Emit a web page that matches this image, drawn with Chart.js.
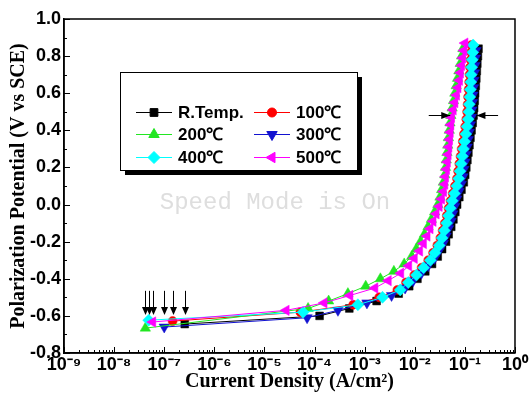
<!DOCTYPE html>
<html>
<head>
<meta charset="utf-8">
<script src="https://cdn.jsdelivr.net/npm/chart.js@4.4.0/dist/chart.umd.min.js"></script>
<style>
html,body{margin:0;padding:0;background:#fff;}
canvas{display:block;}
</style>
</head>
<body>
<canvas id="c" width="529" height="395"></canvas>
<script>
// ---- data: current density (A/cm2) and potential (V vs SCE) ----
const seriesLabels = ['R.Temp.', '100\u2103', '200\u2103', '300\u2103', '400\u2103', '500\u2103'];

const rtCurrent = [2.57e-7, 1.26e-4, 4.94e-4, 1.73e-3, 4.77e-3, 7.74e-3, 1.13e-2, 1.62e-2, 2.21e-2, 2.87e-2, 3.51e-2, 4.21e-2, 4.74e-2, 5.34e-2, 5.90e-2, 6.44e-2, 7.00e-2, 7.74e-2, 8.55e-2, 9.51e-2, 0.1014, 0.1067, 0.1122, 0.1175, 0.1234, 0.1292, 0.1359, 0.1429, 0.149, 0.153, 0.157, 0.160, 0.165, 0.169, 0.173, 0.177, 0.182, 0.187];
const rtPotential = [-0.644, -0.60, -0.56, -0.52, -0.48, -0.44, -0.40, -0.36, -0.32, -0.28, -0.24, -0.20, -0.16, -0.12, -0.08, -0.04, 0.00, 0.04, 0.08, 0.12, 0.16, 0.20, 0.24, 0.28, 0.32, 0.36, 0.40, 0.44, 0.48, 0.52, 0.56, 0.60, 0.64, 0.68, 0.72, 0.76, 0.80, 0.84];

const t100Current = [1.47e-7, 5.2e-5, 5.9e-4, 1.95e-3, 4.5e-3, 6.7e-3, 9.8e-3, 1.37e-2, 1.86e-2, 2.32e-2, 2.82e-2, 3.25e-2, 3.60e-2, 3.98e-2, 4.36e-2, 4.74e-2, 5.18e-2, 5.72e-2, 6.35e-2, 6.95e-2, 7.35e-2, 7.76e-2, 8.20e-2, 8.62e-2, 9.10e-2, 9.60e-2, 0.1015, 0.107, 0.111, 0.1135, 0.116, 0.119, 0.122, 0.124, 0.127, 0.130, 0.133, 0.136];
const t100Potential = [-0.628, -0.58, -0.54, -0.50, -0.46, -0.42, -0.38, -0.34, -0.30, -0.26, -0.22, -0.18, -0.14, -0.10, -0.06, -0.02, 0.02, 0.06, 0.10, 0.14, 0.18, 0.22, 0.26, 0.30, 0.34, 0.38, 0.42, 0.46, 0.50, 0.54, 0.58, 0.62, 0.66, 0.70, 0.74, 0.78, 0.82, 0.86];

const t200Current = [4.2e-8, 7.43e-5, 1.91e-4, 4.63e-4, 1.05e-3, 2.06e-3, 3.83e-3, 6.15e-3, 8.67e-3, 1.07e-2, 1.30e-2, 1.56e-2, 1.84e-2, 2.14e-2, 2.49e-2, 2.89e-2, 3.18e-2, 3.44e-2, 3.72e-2, 3.97e-2, 4.11e-2, 4.25e-2, 4.39e-2, 4.55e-2, 4.70e-2, 4.88e-2, 5.04e-2, 5.25e-2, 5.57e-2, 5.93e-2, 6.30e-2, 6.71e-2, 7.13e-2, 7.60e-2, 8.07e-2, 8.60e-2, 9.12e-2];
const t200Potential = [-0.666, -0.56, -0.52, -0.48, -0.44, -0.40, -0.36, -0.32, -0.28, -0.24, -0.20, -0.16, -0.12, -0.08, -0.04, 0.00, 0.04, 0.08, 0.12, 0.16, 0.20, 0.24, 0.28, 0.32, 0.36, 0.40, 0.44, 0.48, 0.52, 0.56, 0.60, 0.64, 0.68, 0.72, 0.76, 0.80, 0.84];

const t300Current = [1.0e-7, 7.10e-5, 2.93e-4, 1.11e-3, 3.44e-3, 6.41e-3, 9.33e-3, 1.36e-2, 1.86e-2, 2.49e-2, 3.04e-2, 3.71e-2, 4.21e-2, 4.72e-2, 5.30e-2, 5.75e-2, 6.27e-2, 6.87e-2, 7.63e-2, 8.48e-2, 9.17e-2, 9.60e-2, 0.101, 0.106, 0.111, 0.117, 0.122, 0.129, 0.135, 0.138, 0.142, 0.145, 0.149, 0.152, 0.156, 0.160, 0.163, 0.167];
const t300Potential = [-0.660, -0.61, -0.57, -0.53, -0.49, -0.45, -0.41, -0.37, -0.33, -0.29, -0.25, -0.21, -0.17, -0.13, -0.09, -0.05, -0.01, 0.03, 0.07, 0.11, 0.15, 0.19, 0.23, 0.27, 0.31, 0.35, 0.39, 0.43, 0.47, 0.51, 0.55, 0.59, 0.63, 0.67, 0.71, 0.75, 0.79, 0.83];

const t400Current = [4.9e-8, 5.90e-5, 7.33e-4, 2.27e-3, 5.13e-3, 7.43e-3, 1.08e-2, 1.50e-2, 2.05e-2, 2.52e-2, 3.07e-2, 3.51e-2, 3.89e-2, 4.31e-2, 4.70e-2, 5.10e-2, 5.59e-2, 6.18e-2, 6.87e-2, 7.53e-2, 7.96e-2, 8.40e-2, 8.87e-2, 9.33e-2, 9.86e-2, 0.104, 0.110, 0.116, 0.120, 0.122, 0.125, 0.128, 0.131, 0.133, 0.136, 0.140, 0.143, 0.146];
const t400Potential = [-0.623, -0.58, -0.54, -0.50, -0.46, -0.42, -0.38, -0.34, -0.30, -0.26, -0.22, -0.18, -0.14, -0.10, -0.06, -0.02, 0.02, 0.06, 0.10, 0.14, 0.18, 0.22, 0.26, 0.30, 0.34, 0.38, 0.42, 0.46, 0.50, 0.54, 0.58, 0.62, 0.66, 0.70, 0.74, 0.78, 0.82, 0.86];

const t500Current = [5.9e-8, 2.71e-5, 1.55e-4, 5.08e-4, 1.60e-3, 2.96e-3, 5.25e-3, 7.57e-3, 9.78e-3, 1.25e-2, 1.49e-2, 1.76e-2, 2.02e-2, 2.32e-2, 2.67e-2, 3.07e-2, 3.43e-2, 3.76e-2, 3.98e-2, 4.11e-2, 4.31e-2, 4.47e-2, 4.64e-2, 4.79e-2, 4.94e-2, 5.10e-2, 5.25e-2, 5.42e-2, 5.85e-2, 6.32e-2, 6.81e-2, 7.29e-2, 7.81e-2, 8.18e-2, 8.64e-2, 9.08e-2, 9.55e-2, 0.1004];
const t500Potential = [-0.633, -0.57, -0.53, -0.49, -0.45, -0.41, -0.37, -0.33, -0.29, -0.25, -0.21, -0.17, -0.13, -0.09, -0.05, -0.01, 0.03, 0.07, 0.11, 0.15, 0.19, 0.23, 0.27, 0.31, 0.35, 0.39, 0.43, 0.47, 0.51, 0.55, 0.59, 0.63, 0.67, 0.71, 0.75, 0.79, 0.83, 0.87];

// axis ranges and tick values
const xExponents = [-9, -8, -7, -6, -5, -4, -3, -2, -1, 0];
const yMin = -0.8, yMax = 1.0;

// annotation arrows (data units): potential of horizontal arrows and their current ranges
const hArrowPotential = 0.48;
const hArrowCurrents = [[0.019, 0.051], [0.46, 0.17]];
const vArrowPotentials = [-0.465, -0.595];

// ---- build ----
function pts(xs, ys) { return xs.map((v, i) => ({ x: v, y: ys[i] })); }

const styles = [
  { color: '#000000', pointStyle: 'rect', rotation: 0, radius: 5.5, order: 6 },
  { color: '#ff0000', pointStyle: 'circle', rotation: 0, radius: 4.5, order: 5 },
  { color: '#22e622', pointStyle: 'triangle', rotation: 0, radius: 6, order: 3 },
  { color: '#1212d0', pointStyle: 'triangle', rotation: 180, radius: 6, order: 4 },
  { color: '#00ffff', pointStyle: 'rectRot', rotation: 0, radius: 6, order: 2 },
  { color: '#ff00ff', pointStyle: 'triangle', rotation: 270, radius: 6, order: 1 }
];
const allX = [rtCurrent, t100Current, t200Current, t300Current, t400Current, t500Current];
const allY = [rtPotential, t100Potential, t200Potential, t300Potential, t400Potential, t500Potential];

const datasets = seriesLabels.map((lab, i) => ({
  label: lab,
  data: pts(allX[i], allY[i]),
  borderColor: styles[i].color,
  backgroundColor: styles[i].color,
  pointBackgroundColor: styles[i].color,
  pointBorderColor: styles[i].color,
  pointBorderWidth: 0.5,
  borderWidth: 1,
  pointStyle: styles[i].pointStyle,
  rotation: styles[i].rotation,
  pointRadius: styles[i].radius,
  order: styles[i].order,
  tension: 0
}));

const supMap = { '-': '\u207B', '0': '\u2070', '1': '\u00B9', '2': '\u00B2', '3': '\u00B3', '4': '\u2074', '5': '\u2075', '6': '\u2076', '7': '\u2077', '8': '\u2078', '9': '\u2079' };
function sup(n) { return String(n).split('').map(c => supMap[c]).join(''); }

function arrowHead(ctx, x, y, dir) {
  ctx.beginPath();
  if (dir === 'down') { ctx.moveTo(x, y); ctx.lineTo(x - 3.5, y - 8); ctx.lineTo(x + 3.5, y - 8); }
  else if (dir === 'right') { ctx.moveTo(x, y); ctx.lineTo(x - 9, y - 3.5); ctx.lineTo(x - 9, y + 3.5); }
  else { ctx.moveTo(x, y); ctx.lineTo(x + 9, y - 3.5); ctx.lineTo(x + 9, y + 3.5); }
  ctx.closePath(); ctx.fill();
}

const decorPlugin = {
  id: 'decor',
  beforeDatasetsDraw(chart) {
    const ctx = chart.ctx;
    ctx.save();
    ctx.fillStyle = '#dedede';
    ctx.font = '24px "Liberation Mono", "DejaVu Sans Mono", monospace';
    ctx.textAlign = 'center';
    ctx.textBaseline = 'middle';
    ctx.fillText('Speed Mode is On', 275, 203);
    ctx.restore();
  },
  afterDatasetsDraw(chart) {
    const { ctx, scales: { x, y } } = chart;
    ctx.save();
    ctx.strokeStyle = '#000'; ctx.fillStyle = '#000'; ctx.lineWidth = 1;
    chart.data.datasets.forEach(ds => {
      const px = Math.round(x.getPixelForValue(ds.data[0].x)) + 0.5;
      const y0 = y.getPixelForValue(vArrowPotentials[0]);
      const y1 = y.getPixelForValue(vArrowPotentials[1]);
      ctx.beginPath(); ctx.moveTo(px, y0); ctx.lineTo(px, y1 - 6); ctx.stroke();
      arrowHead(ctx, px, y1, 'down');
    });
    const hy = Math.round(y.getPixelForValue(hArrowPotential)) + 0.5;
    hArrowCurrents.forEach(([from, to]) => {
      const p0 = x.getPixelForValue(from), p1 = x.getPixelForValue(to);
      ctx.beginPath(); ctx.moveTo(p0, hy); ctx.lineTo(p1, hy); ctx.stroke();
      arrowHead(ctx, p1, hy, p1 > p0 ? 'right' : 'left');
    });

    // legend box with drop shadow
    const L = 120, T = 72, W = 237, H = 98;
    ctx.fillStyle = '#000'; ctx.fillRect(L + 5, T + 5, W, H);
    ctx.fillStyle = '#fff'; ctx.fillRect(L, T, W, H);
    ctx.strokeStyle = '#000'; ctx.lineWidth = 1; ctx.strokeRect(L + 0.5, T + 0.5, W, H);
    const rows = [112, 134, 157], cols = [136, 254];
    ctx.font = 'bold 17px "Liberation Sans", Arial, sans-serif';
    ctx.textBaseline = 'middle'; ctx.textAlign = 'left';
    chart.data.datasets.forEach((ds, i) => {
      const cx = cols[i % 2], cy = rows[Math.floor(i / 2)];
      ctx.strokeStyle = ds.borderColor; ctx.lineWidth = 1;
      ctx.beginPath(); ctx.moveTo(cx, cy + 0.5); ctx.lineTo(cx + 36, cy + 0.5); ctx.stroke();
      ctx.fillStyle = ds.backgroundColor; ctx.strokeStyle = ds.borderColor;
      Chart.helpers.drawPoint(ctx, { pointStyle: ds.pointStyle, rotation: ds.rotation, radius: ds.pointRadius, borderWidth: 0.5 }, cx + 18, cy + 0.5);
      ctx.fillStyle = '#000';
      ctx.fillText(ds.label, cx + 42, cy + 1);
    });
    ctx.restore();
  },
  afterDraw(chart) {
    const { ctx, chartArea: a, scales: { x, y } } = chart;
    ctx.save();
    ctx.strokeStyle = '#000';
    ctx.lineWidth = 1.5;
    ctx.strokeRect(a.left, a.top, a.right - a.left, a.bottom - a.top);
    ctx.lineWidth = 1;
    y.ticks.forEach(t => {
      const py = Math.round(y.getPixelForValue(t.value)) + 0.5;
      const len = Math.round(t.value * 10) % 2 === 0 ? 6 : 3;
      ctx.beginPath(); ctx.moveTo(a.left, py); ctx.lineTo(a.left + len, py); ctx.stroke();
    });
    xExponents.forEach(e => {
      for (let k = 1; k <= 9; k++) {
        const v = k * Math.pow(10, e);
        if (v > 1.0001) break;
        const px = Math.round(x.getPixelForValue(v)) + 0.5;
        const len = k === 1 ? 6 : 3;
        ctx.beginPath(); ctx.moveTo(px, a.bottom); ctx.lineTo(px, a.bottom - len); ctx.stroke();
      }
    });
    ctx.restore();
  }
};

Chart.defaults.font.family = '"Liberation Sans", Arial, sans-serif';
Chart.defaults.color = '#000';

new Chart(document.getElementById('c'), {
  type: 'line',
  data: { datasets },
  options: {
    responsive: false,
    devicePixelRatio: 1,
    animation: false,
    events: [],
    layout: { padding: { top: 19, right: 12, left: 0, bottom: 0 } },
    plugins: { legend: { display: false }, tooltip: { enabled: false } },
    scales: {
      x: {
        type: 'logarithmic',
        min: 1e-9, max: 1,
        afterFit: s => { s.height = 42; },
        afterBuildTicks: s => { s.ticks = xExponents.map(e => ({ value: Math.pow(10, e) })); },
        grid: { display: false, drawTicks: false },
        border: { display: true, color: '#000', width: 1.5 },
        ticks: {
          padding: 1, autoSkip: false, maxRotation: 0,
          font: { size: 18, weight: 'bold' },
          callback: v => '10' + sup(Math.round(Math.log10(v)))
        },
        title: {
          display: true, text: 'Current Density (A/cm\u00B2)',
          font: { family: '"Liberation Serif", "Times New Roman", serif', size: 20, weight: 'bold' },
          padding: { top: 0, bottom: 1 }
        }
      },
      y: {
        min: yMin, max: yMax,
        afterFit: s => { s.width = 64; },
        grid: { display: false, drawTicks: false },
        border: { display: true, color: '#000', width: 1.5 },
        ticks: {
          stepSize: 0.1, padding: 3, autoSkip: false,
          font: { size: 18, weight: 'bold' },
          callback: v => (Math.round(v * 10) % 2 === 0 ? v.toFixed(1) : '')
        },
        title: {
          display: true, text: 'Polarization Potential (V vs SCE)',
          font: { family: '"Liberation Serif", "Times New Roman", serif', size: 20, weight: 'bold' },
          padding: { top: 7, bottom: 0 }
        }
      }
    }
  },
  plugins: [decorPlugin]
});
</script>
</body>
</html>
